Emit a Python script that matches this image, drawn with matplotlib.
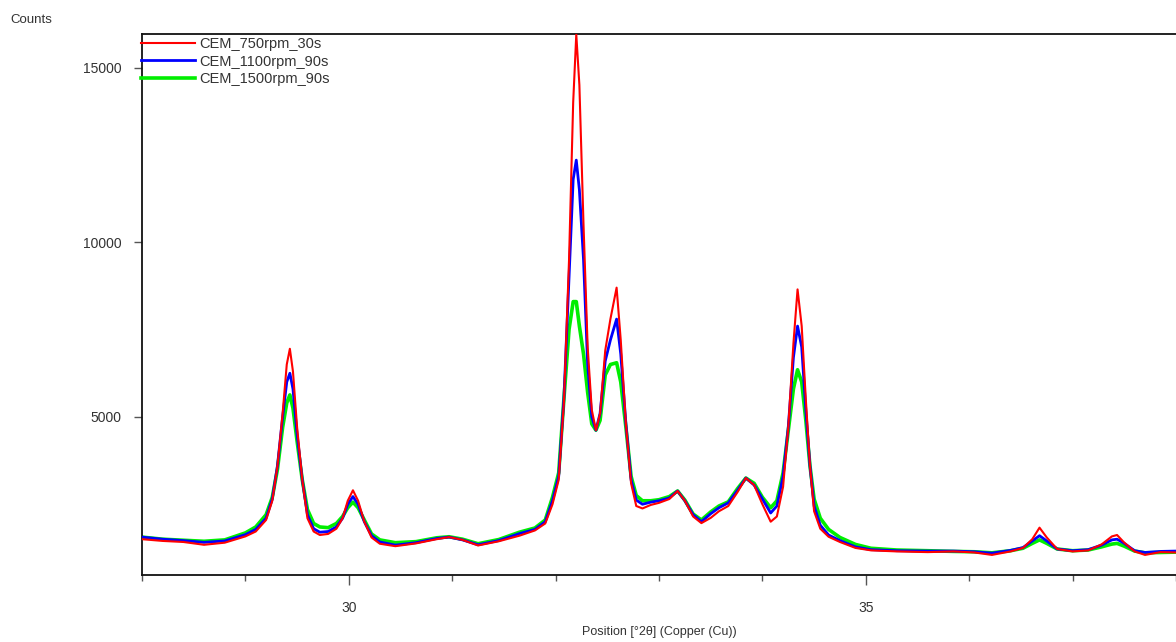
import matplotlib
matplotlib.use("Agg")
import matplotlib.pyplot as plt
from matplotlib.ticker import MultipleLocator, FixedLocator

plt.rcParams['font.family'] = ['Liberation Sans', 'DejaVu Sans']

# Position [°2θ] - shared grid for the three scans
two_theta = [
    28.00, 28.20, 28.40, 28.60, 28.80, 29.00, 29.10, 29.20, 29.26, 29.31,
    29.36, 29.40, 29.43, 29.46, 29.50, 29.55, 29.60, 29.66, 29.72, 29.80,
    29.88, 29.94, 29.99, 30.04, 30.09, 30.15, 30.22, 30.30, 30.45, 30.65,
    30.85, 30.97, 31.10, 31.25, 31.45, 31.65, 31.80, 31.90, 31.97, 32.03,
    32.08, 32.13, 32.17, 32.20, 32.23, 32.27, 32.31, 32.35, 32.39, 32.43,
    32.48, 32.53, 32.59, 32.63, 32.68, 32.73, 32.78, 32.84, 32.92, 33.00,
    33.10, 33.18, 33.25, 33.33, 33.41, 33.50, 33.58, 33.67, 33.76, 33.84,
    33.92, 34.00, 34.08, 34.14, 34.20, 34.25, 34.30, 34.34, 34.38, 34.42,
    34.46, 34.50, 34.56, 34.64, 34.75, 34.90, 35.05, 35.30, 35.60, 35.85,
    36.05, 36.22, 36.40, 36.52, 36.61, 36.68, 36.75, 36.85, 37.00, 37.15,
    37.28, 37.38, 37.43, 37.50, 37.60, 37.70, 37.85, 38.00,
]

cem_750_30 = [
    1500, 1450, 1420, 1340, 1400, 1580, 1720, 2050, 2600, 3600,
    5100, 6500, 6950, 6300, 4700, 3200, 2100, 1720, 1620, 1650,
    1800, 2100, 2600, 2900, 2600, 2000, 1550, 1370, 1300, 1380,
    1500, 1560, 1480, 1320, 1440, 1600, 1750, 1950, 2500, 3200,
    5400, 9500, 14000, 15950, 14500, 10500, 7000, 5200, 4620, 5100,
    6900, 7800, 8700, 7200, 4800, 3100, 2450, 2380, 2480, 2540,
    2650, 2880, 2600, 2150, 1960, 2110, 2300, 2450, 2850, 3250,
    3050, 2500, 2000, 2150, 3000, 4700, 7100, 8650, 7600, 5500,
    3600, 2300, 1800, 1570, 1420, 1250, 1180, 1150, 1130, 1150,
    1120, 1050, 1150, 1250, 1500, 1830, 1550, 1220, 1150, 1180,
    1350, 1580, 1620, 1400, 1150, 1050, 1130, 1120,
]

cem_1100_90 = [
    1560, 1500, 1460, 1410, 1450, 1630, 1780, 2100, 2650, 3600,
    5000, 6000, 6250, 5800, 4500, 3200, 2200, 1800, 1700, 1720,
    1850, 2100, 2500, 2720, 2500, 2000, 1600, 1420, 1330, 1400,
    1520, 1560, 1480, 1340, 1460, 1660, 1780, 2000, 2600, 3300,
    5500, 9000, 11800, 12350, 11500, 9500, 6500, 5000, 4620, 5100,
    6600, 7200, 7800, 6800, 4800, 3200, 2620, 2500, 2560, 2600,
    2680, 2880, 2600, 2200, 2000, 2230, 2400, 2540, 2900, 3250,
    3050, 2650, 2250, 2450, 3300, 4700, 6700, 7600, 7000, 5200,
    3600, 2450, 1900, 1620, 1460, 1280, 1200, 1170, 1160, 1160,
    1140, 1100, 1180, 1260, 1450, 1600, 1450, 1220, 1170, 1200,
    1330, 1480, 1500, 1380, 1170, 1120, 1150, 1160,
]

cem_1500_90 = [
    1560, 1500, 1470, 1440, 1480, 1680, 1850, 2200, 2700, 3500,
    4700, 5400, 5630, 5250, 4300, 3200, 2350, 1950, 1850, 1830,
    1950, 2150, 2400, 2560, 2400, 2050, 1650, 1480, 1400, 1430,
    1540, 1570, 1500, 1370, 1490, 1700, 1820, 2050, 2700, 3400,
    5500, 7500, 8300, 8300, 7600, 6800, 5700, 4800, 4620, 4900,
    6200, 6500, 6550, 6000, 4700, 3300, 2750, 2600, 2600, 2630,
    2720, 2880, 2620, 2220, 2050, 2280, 2450, 2570, 2950, 3250,
    3100, 2700, 2400, 2600, 3400, 4600, 5800, 6350, 6000, 4900,
    3600, 2650, 2100, 1780, 1550, 1350, 1240, 1190, 1170, 1150,
    1140, 1110, 1170, 1240, 1380, 1480, 1380, 1220, 1170, 1190,
    1280, 1360, 1380, 1300, 1160, 1110, 1120, 1130,
]

series_labels = ['CEM_750rpm_30s', 'CEM_1100rpm_90s', 'CEM_1500rpm_90s']
series_colors = ['#ff0000', '#0000ff', '#00ee00']

text_col = '#333333'

fig = plt.figure(figsize=(11.76, 6.42), dpi=100)
ax = fig.add_axes([142 / 1176, 67 / 642, 1 - 142 / 1176, 541 / 642])

# green first, red last so red sits on top like the original
l_g, = ax.plot(two_theta, cem_1500_90, color=series_colors[2], lw=2.6, zorder=2)
l_b, = ax.plot(two_theta, cem_1100_90, color=series_colors[1], lw=2.0, zorder=3)
l_r, = ax.plot(two_theta, cem_750_30, color=series_colors[0], lw=1.5, zorder=4)

ax.set_xlim(28, 38)
ax.set_ylim(475, 15960)

ax.xaxis.set_major_locator(FixedLocator([30, 35]))
ax.xaxis.set_minor_locator(MultipleLocator(1))
ax.yaxis.set_major_locator(FixedLocator([5000, 10000, 15000]))

ax.tick_params(axis='x', which='major', direction='out', length=7, width=1,
               pad=12, labelsize=10, labelcolor=text_col, color='#555555')
ax.tick_params(axis='x', which='minor', direction='out', length=4, width=1,
               color='#555555')
ax.tick_params(axis='y', which='major', direction='out', length=6, width=1,
               pad=9, labelsize=10, labelcolor=text_col, color='#555555')

for side in ['left', 'bottom', 'top']:
    ax.spines[side].set_linewidth(1.3)
    ax.spines[side].set_color('#111111')
ax.spines['right'].set_visible(False)

ax.xaxis.set_label_coords(0.5, -0.095)
ax.set_xlabel('Position [°2θ] (Copper (Cu))', fontsize=9, color=text_col)

fig.text(10 / 1176, 1 - 20 / 642, 'Counts', fontsize=9.5, color=text_col,
         ha='left', va='center')

leg = ax.legend([l_r, l_b, l_g], series_labels, loc='upper left',
                bbox_to_anchor=(-0.004, 1.0), borderaxespad=0, borderpad=0.2,
                frameon=False, fontsize=10.5, handlelength=3.7,
                handletextpad=0.3, labelspacing=0.25)
for t in leg.get_texts():
    t.set_color(text_col)

fig.savefig('out.png', dpi=100)
